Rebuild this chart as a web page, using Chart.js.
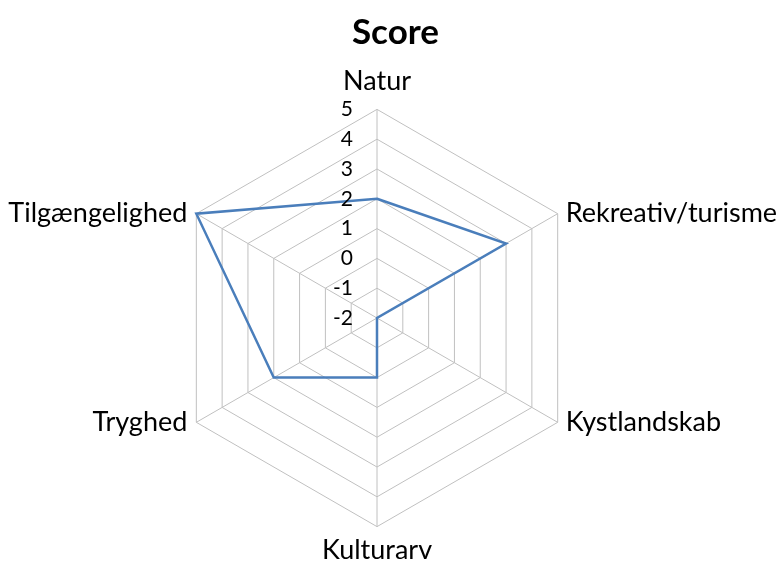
<!DOCTYPE html>
<html>
<head>
<meta charset="utf-8">
<script src="https://cdn.jsdelivr.net/npm/chart.js@4"></script>
<style>
  html, body { margin: 0; padding: 0; background: #fff; }
  #wrap { width: 781px; height: 563px; }
</style>
</head>
<body>
<div id="wrap"><canvas id="score-canvas"></canvas></div>
<script>
// Radar chart - Score

var categories = ["Natur", "Rekreativ/turisme", "Kystlandskab", "Kulturarv", "Tryghed", "Tilgængelighed"];
var scores = [2, 3, -2, 0, 2, 5];
var tickMin = -2;
var tickMax = 5;

// Excel style text: tick numbers left of the vertical axis,
// category names centred on the hexagon corners
var excelText = {
  id: 'excelText',
  afterDraw: function (chart) {
    var scale = chart.scales.r;
    var ctx = chart.ctx;
    ctx.save();
    ctx.fillStyle = '#000';

    ctx.font = '21px Lato';
    ctx.textAlign = 'right';
    ctx.textBaseline = 'middle';
    scale.ticks.forEach(function (t) {
      var p = scale.getPointPositionForValue(0, t.value);
      ctx.fillText(String(t.value), p.x - 24, p.y);
    });

    ctx.font = '27px Lato';
    categories.forEach(function (name, i) {
      var p = scale.getPointPosition(i, scale.drawingArea);
      if (i === 0) {
        ctx.textAlign = 'center'; ctx.textBaseline = 'alphabetic';
        ctx.fillText(name, p.x, p.y - 19);
      } else if (i === 3) {
        ctx.textAlign = 'center'; ctx.textBaseline = 'alphabetic';
        ctx.fillText(name, p.x, p.y + 32);
      } else if (p.x > scale.xCenter) {
        ctx.textAlign = 'left'; ctx.textBaseline = 'middle';
        ctx.fillText(name, p.x + 8, p.y);
      } else {
        ctx.textAlign = 'right'; ctx.textBaseline = 'middle';
        ctx.fillText(name, p.x - 9, p.y);
      }
    });
    ctx.restore();
  }
};

new Chart(document.getElementById("score-canvas"), {
  type: 'radar',
  data: {
    labels: categories,
    datasets: [
      {
        label: "Score",
        data: scores,
        borderColor: "#4a7ebb",
        borderWidth: 2.5,
        fill: false,
        pointRadius: 0,
        tension: 0
      }
    ]
  },
  options: {
    responsive: true,
    maintainAspectRatio: false,
    animation: false,
    layout: { padding: { top: 10, bottom: 0, left: 10, right: 0 } },
    plugins: {
      legend: { display: false },
      tooltip: { enabled: false },
      title: {
        display: true,
        text: "Score",
        color: '#000',
        font: { family: 'Lato', size: 35, weight: 'bold' },
        padding: { top: 2, bottom: 20 }
      }
    },
    scales: {
      r: {
        min: tickMin,
        max: tickMax,
        ticks: { stepSize: 1, display: false },
        grid: { color: '#c0c0c0', lineWidth: 1, circular: false },
        angleLines: { color: '#c0c0c0', lineWidth: 1 },
        pointLabels: {
          // kept for the layout only, drawn by excelText
          color: 'rgba(0,0,0,0)',
          font: { family: 'Lato', size: 26 },
          padding: 2
        }
      }
    }
  },
  plugins: [excelText]
});
</script>
</body>
</html>
